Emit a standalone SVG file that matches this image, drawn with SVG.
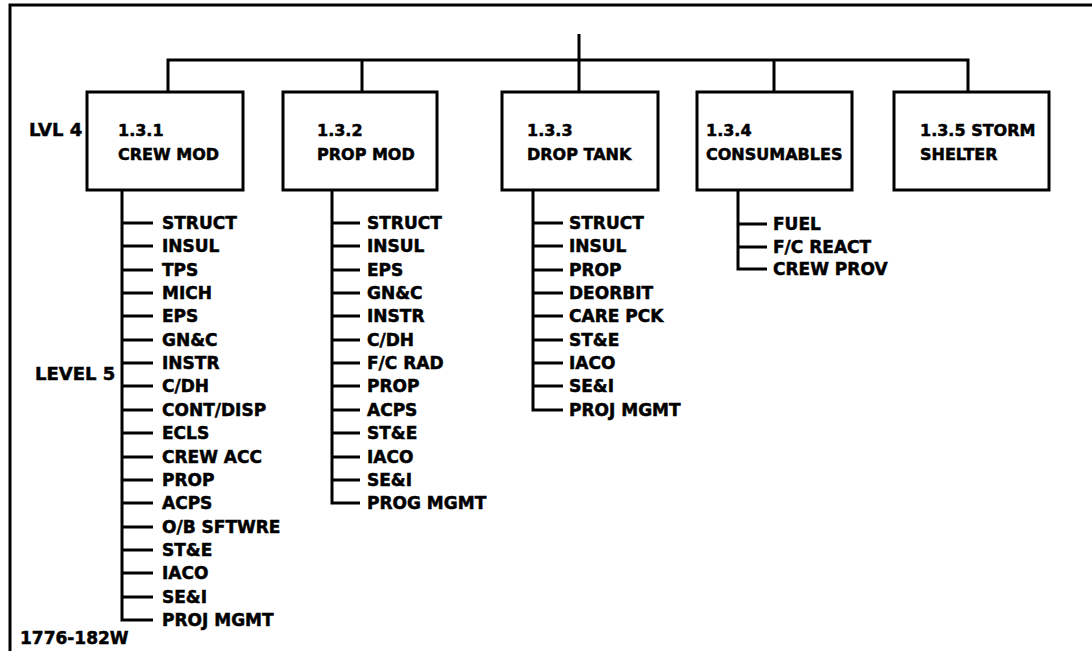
<svg xmlns="http://www.w3.org/2000/svg" width="1092" height="651" viewBox="0 0 1092 651">
<style>
.bx{fill:#fff;stroke:#000;stroke-width:3}
.ln{fill:none;stroke:#000;stroke-width:3}
.t{font-family:"DejaVu Sans","Liberation Sans",sans-serif;font-weight:bold;font-size:16px;fill:#000;stroke:#000;stroke-width:0.5}
.li{font-family:"DejaVu Sans","Liberation Sans",sans-serif;font-weight:bold;font-size:17px;fill:#000;stroke:#000;stroke-width:0.5}
.lv{font-size:18px}
</style>
<rect width="1092" height="651" fill="#fff"/>
<g id="frame">
<path class="ln" d="M10,651 V5 H1092"/>
</g>
<g id="labels">
<text class="t lv" x="29" y="136">LVL 4</text>
<text class="t lv" x="35" y="380">LEVEL 5</text>
<text class="t" x="20" y="644" style="font-size:17px">1776-182W</text>
</g>
<g id="connectors">
<path class="ln" d="M579,34 V60 M168,92 V60 H968 V92 M362,60 V92 M579,60 V92 M774,60 V92"/>
<path class="ln" d="M122,190 V620 H153 M122,223 H153 M122,246 H153 M122,270 H153 M122,293 H153 M122,316 H153 M122,340 H153 M122,363 H153 M122,386 H153 M122,410 H153 M122,433 H153 M122,457 H153 M122,480 H153 M122,503 H153 M122,527 H153 M122,550 H153 M122,573 H153 M122,597 H153"/>
<path class="ln" d="M332,190 V503 H360 M332,223 H360 M332,246 H360 M332,270 H360 M332,293 H360 M332,316 H360 M332,340 H360 M332,363 H360 M332,386 H360 M332,410 H360 M332,433 H360 M332,457 H360 M332,480 H360"/>
<path class="ln" d="M533,190 V410 H563 M533,223 H563 M533,246 H563 M533,270 H563 M533,293 H563 M533,316 H563 M533,340 H563 M533,363 H563 M533,386 H563"/>
<path class="ln" d="M738,190 V269 H767 M738,224 H767 M738,247 H767"/>
</g>
<g id="n131">
<rect class="bx" x="87" y="92" width="156" height="98"/>
<text class="t" x="118" y="136">1.3.1</text>
<text class="t" x="118" y="160">CREW MOD</text>
</g>
<g id="n132">
<rect class="bx" x="283" y="92" width="154" height="98"/>
<text class="t" x="317" y="136">1.3.2</text>
<text class="t" x="317" y="160">PROP MOD</text>
</g>
<g id="n133">
<rect class="bx" x="502" y="92" width="156" height="98"/>
<text class="t" x="527" y="136">1.3.3</text>
<text class="t" x="527" y="160">DROP TANK</text>
</g>
<g id="n134">
<rect class="bx" x="697" y="92" width="155" height="98"/>
<text class="t" x="706" y="136">1.3.4</text>
<text class="t" x="706" y="160">CONSUMABLES</text>
</g>
<g id="n135">
<rect class="bx" x="894" y="92" width="155" height="98"/>
<text class="t" x="920" y="136">1.3.5 STORM</text>
<text class="t" x="920" y="160">SHELTER</text>
</g>
<g id="list131">
<text class="li" x="162" y="229">STRUCT</text>
<text class="li" x="162" y="252">INSUL</text>
<text class="li" x="162" y="276">TPS</text>
<text class="li" x="162" y="299">MICH</text>
<text class="li" x="162" y="322">EPS</text>
<text class="li" x="162" y="346">GN&amp;C</text>
<text class="li" x="162" y="369">INSTR</text>
<text class="li" x="162" y="392">C/DH</text>
<text class="li" x="162" y="416">CONT/DISP</text>
<text class="li" x="162" y="439">ECLS</text>
<text class="li" x="162" y="463">CREW ACC</text>
<text class="li" x="162" y="486">PROP</text>
<text class="li" x="162" y="509">ACPS</text>
<text class="li" x="162" y="533">O/B SFTWRE</text>
<text class="li" x="162" y="556">ST&amp;E</text>
<text class="li" x="162" y="579">IACO</text>
<text class="li" x="162" y="603">SE&amp;I</text>
<text class="li" x="162" y="626">PROJ MGMT</text>
</g>
<g id="list132">
<text class="li" x="367" y="229">STRUCT</text>
<text class="li" x="367" y="252">INSUL</text>
<text class="li" x="367" y="276">EPS</text>
<text class="li" x="367" y="299">GN&amp;C</text>
<text class="li" x="367" y="322">INSTR</text>
<text class="li" x="367" y="346">C/DH</text>
<text class="li" x="367" y="369">F/C RAD</text>
<text class="li" x="367" y="392">PROP</text>
<text class="li" x="367" y="416">ACPS</text>
<text class="li" x="367" y="439">ST&amp;E</text>
<text class="li" x="367" y="463">IACO</text>
<text class="li" x="367" y="486">SE&amp;I</text>
<text class="li" x="367" y="509">PROG MGMT</text>
</g>
<g id="list133">
<text class="li" x="569" y="229">STRUCT</text>
<text class="li" x="569" y="252">INSUL</text>
<text class="li" x="569" y="276">PROP</text>
<text class="li" x="569" y="299">DEORBIT</text>
<text class="li" x="569" y="322">CARE PCK</text>
<text class="li" x="569" y="346">ST&amp;E</text>
<text class="li" x="569" y="369">IACO</text>
<text class="li" x="569" y="392">SE&amp;I</text>
<text class="li" x="569" y="416">PROJ MGMT</text>
</g>
<g id="list134">
<text class="li" x="773" y="230">FUEL</text>
<text class="li" x="773" y="253">F/C REACT</text>
<text class="li" x="773" y="275">CREW PROV</text>
</g>
</svg>
